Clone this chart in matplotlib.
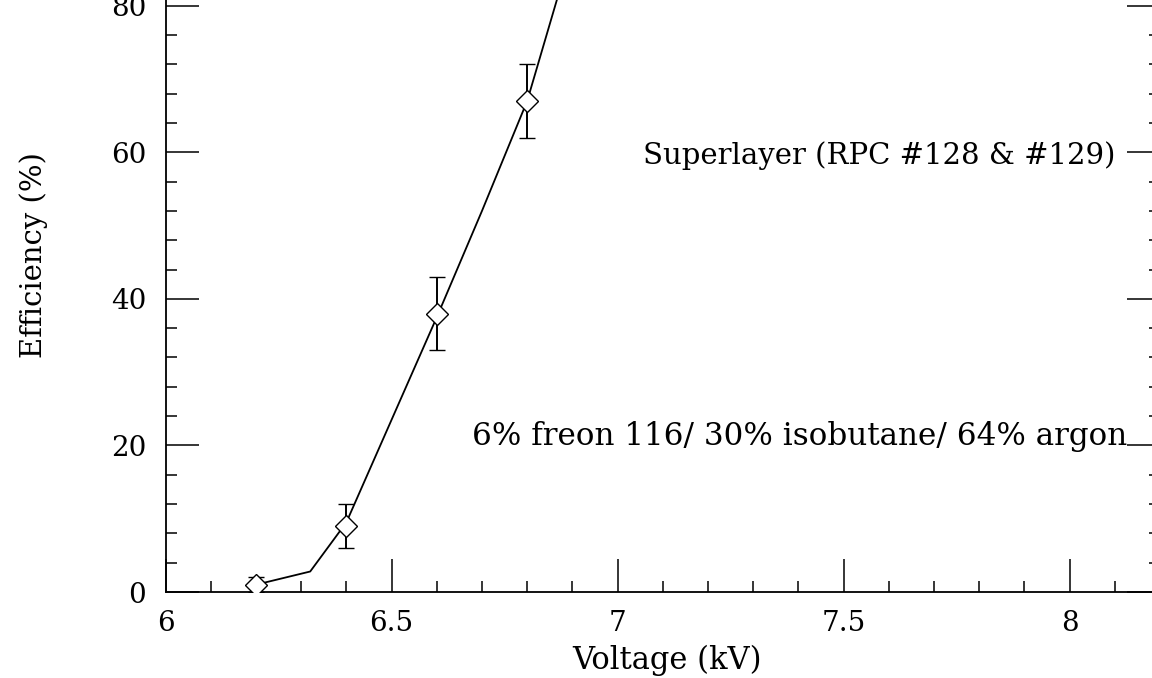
"""Superlayer RPC efficiency vs. high voltage (recreated plot)."""
import matplotlib
matplotlib.use("Agg")
import matplotlib.pyplot as plt
from matplotlib.ticker import MultipleLocator

# measured points
volt = [6.2, 6.4, 6.6, 6.8]          # kV
eff  = [1.0, 9.0, 38.0, 67.0]        # %
err  = [1.0, 3.0, 5.0, 5.0]          # %

# drawn curve through the points
fit_v = [6.2, 6.32, 6.4, 6.5, 6.6, 6.7, 6.8, 6.9]
fit_e = [1.0, 2.8, 9.5, 23.5, 37.5, 52.0, 67.0, 88.0]

x_ticks = [6, 6.5, 7, 7.5, 8]
x_tick_labels = ["6", "6.5", "7", "7.5", "8"]
y_ticks = [0, 20, 40, 60, 80, 100]

label_chamber = "Superlayer (RPC #128 & #129)"
label_gas     = "6% freon 116/ 30% isobutane/ 64% argon"

plt.rcParams["font.family"] = ["DejaVu Serif"]

fig = plt.figure(figsize=(11.52, 6.78), dpi=100)
# axes runs past the top/right of the figure: the reference is a crop
ax = fig.add_axes([0.1437, 0.1268, 0.8633, 1.081])

ax.plot(fit_v, fit_e, color="black", lw=1.3)
ax.errorbar(volt, eff, yerr=err, fmt="D", ms=11, mfc="white", mec="black",
            mew=1.0, ecolor="black", elinewidth=1.4, capsize=6, capthick=1.4,
            color="black", zorder=3)

ax.set_xlim(6, 8.2)
ax.set_ylim(0, 100)

ax.set_xticks(x_ticks)
ax.set_xticklabels(x_tick_labels)
ax.set_yticks(y_ticks)
ax.xaxis.set_minor_locator(MultipleLocator(0.1))
ax.yaxis.set_minor_locator(MultipleLocator(4))

ax.tick_params(which="both", direction="in", top=True, right=True,
               width=1.1, colors="black")
ax.tick_params(which="major", length=23.5, labelsize=20)
ax.tick_params(which="minor", length=8)
ax.tick_params(axis="y", which="major", pad=14)
ax.tick_params(axis="x", which="major", pad=13)

for s in ax.spines.values():
    s.set_linewidth(1.3)

ax.set_xlabel("Voltage (kV)", fontsize=22)
ax.xaxis.set_label_coords(0.504, -0.0928)
ax.xaxis.label.set_va("center")
ax.set_ylabel("Efficiency (%)", fontsize=21)
ax.yaxis.set_label_coords(-0.133, 0.46)
ax.yaxis.label.set_va("center")

ax.text(8.101, 59.6, label_chamber, ha="right", va="center", fontsize=21)
ax.text(8.127, 20.0, label_gas, ha="right", va="baseline", fontsize=22.3)

fig.savefig("out.png", dpi=100)
